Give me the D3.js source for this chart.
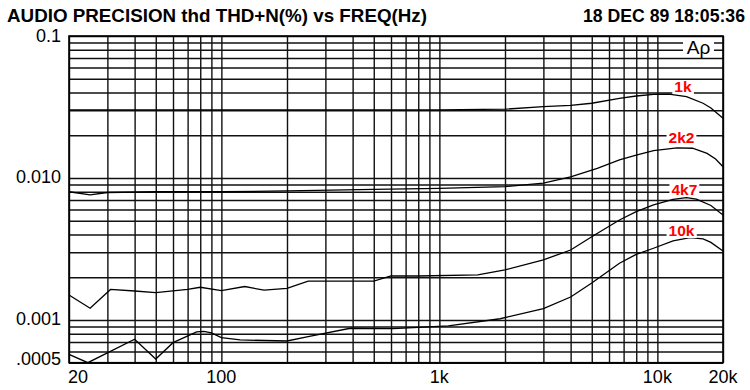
<!DOCTYPE html>
<html>
<head>
<meta charset="utf-8">
<script src="https://cdn.jsdelivr.net/npm/d3@7"></script>
<style>
  body { margin: 0; background: #fff; }
  svg { display: block; font-family: "Liberation Sans", Arial, sans-serif; }
  .grid line { stroke: #111; stroke-width: 1.4; }
  .grid path { display: none; }
  .curve { fill: none; stroke: #000; stroke-width: 1.3; }
</style>
</head>
<body>
<div id="chart"></div>
<script>
// tick labels
const xTickVals = [20, 100, 1000, 10000, 20000];
const xTickLabels = ['20', '100', '1k', '10k', '20k'];
const yTickVals = [0.1, 0.01, 0.001, 0.0005];
const yTickLabels = ['0.1', '0.010', '0.001', '.0005'];

// series (freq in Hz, THD+N in %)
const seriesNames = ['1k', '2k2', '4k7', '10k'];

const freq1k = [20, 100, 500, 1000, 2000, 3000, 4000, 5000, 6700, 8000, 9600, 11300, 13600, 16200, 17600, 20000];
const thd1k = [0.0302, 0.0302, 0.0302, 0.0302, 0.0305, 0.0318, 0.0325, 0.0336, 0.0364, 0.0378, 0.0388, 0.0390, 0.0374, 0.0336, 0.0311, 0.0263];

const freq2k2 = [20, 25, 30, 50, 100, 200, 500, 1000, 2000, 3000, 4000, 5300, 6700, 8000, 9600, 12300, 14500, 16900, 18500, 20000];
const thd2k2 = [0.0080, 0.0076, 0.0079, 0.0080, 0.0080, 0.0081, 0.0083, 0.00845, 0.0087, 0.0092, 0.0102, 0.0117, 0.0134, 0.0145, 0.0156, 0.0163, 0.0162, 0.0149, 0.0136, 0.0120];

const freq4k7 = [20, 25, 31, 40, 50, 70, 80, 100, 128, 157, 200, 250, 500, 600, 800, 1500, 2000, 3000, 4000, 5000, 6700, 8000, 9600, 11800, 13600, 15100, 17600, 20000];
const thd4k7 = [0.0015, 0.00121, 0.00164, 0.0016, 0.00156, 0.00164, 0.0017, 0.00161, 0.00172, 0.00162, 0.00167, 0.00188, 0.00188, 0.00204, 0.00204, 0.00208, 0.00225, 0.00265, 0.00311, 0.00386, 0.00506, 0.0058, 0.00646, 0.00708, 0.00727, 0.00709, 0.0064, 0.00549];

const freq10k = [20, 24.4, 40, 50, 60, 77, 83, 90, 100, 122, 200, 250, 390, 615, 1100, 1900, 3000, 4000, 5000, 6700, 8000, 9600, 11800, 14100, 16200, 17600, 20000];
const thd10k = [0.000573, 0.0005, 0.000731, 0.000531, 0.000692, 0.000823, 0.00083, 0.00081, 0.00075, 0.000723, 0.000711, 0.000763, 0.000874, 0.00087, 0.000908, 0.00102, 0.0012, 0.00145, 0.00182, 0.00251, 0.0029, 0.0032, 0.0036, 0.0038, 0.00372, 0.00352, 0.00306];

// where the series names sit (freq, value at text baseline)
const labelFreq = [13100, 12900, 13300, 12900];
const labelVal = [0.0403, 0.0176, 0.0076, 0.0039];

const W = 750, H = 390;
const plotL = 69, plotR = 723, plotT = 36, plotB = 362.7;

const svg = d3.select('#chart').append('svg')
  .attr('width', W).attr('height', H);

const x = d3.scaleLog().domain([20, 20000]).range([plotL, plotR]);
const y = d3.scaleLog().domain([0.0005, 0.1]).range([plotB, plotT]);

// grid values
const gridX = [];
[10, 100, 1000].forEach(d => { for (let k = 1; k <= 9; k++) if (d * k >= 20) gridX.push(d * k); });
gridX.push(10000, 20000);
const gridY = [];
[0.0001, 0.001, 0.01].forEach(d => { for (let k = 1; k <= 9; k++) if (d * k >= 0.0005) gridY.push(+(d * k).toPrecision(3)); });
gridY.push(0.1);

svg.append('g').attr('class', 'grid')
  .attr('transform', `translate(0,${plotB})`)
  .call(d3.axisBottom(x).tickValues(gridX).tickSize(-(plotB - plotT)).tickFormat(''));
svg.append('g').attr('class', 'grid')
  .attr('transform', `translate(${plotL},0)`)
  .call(d3.axisLeft(y).tickValues(gridY).tickSize(-(plotR - plotL)).tickFormat(''));

svg.append('rect')
  .attr('x', plotL).attr('y', plotT)
  .attr('width', plotR - plotL).attr('height', plotB - plotT)
  .attr('fill', 'none').attr('stroke', '#000').attr('stroke-width', 1.6);

// axis labels
svg.selectAll('.xlab').data(xTickVals).enter().append('text')
  .attr('x', (d, i) => i === 0 ? x(d) - 1 : x(d))
  .attr('y', 383)
  .attr('text-anchor', (d, i) => i === 0 ? 'start' : 'middle')
  .attr('font-size', 18)
  .text((d, i) => xTickLabels[i]);

const yDy = [6, 5, 5, 2];
svg.selectAll('.ylab').data(yTickVals).enter().append('text')
  .attr('x', 61)
  .attr('y', (d, i) => y(d) + yDy[i])
  .attr('text-anchor', 'end')
  .attr('font-size', 18)
  .text((d, i) => yTickLabels[i]);

// titles
svg.append('text').attr('x', 7).attr('y', 21.5)
  .attr('font-size', 17.5).attr('font-weight', 'bold')
  .attr('textLength', 420).attr('lengthAdjust', 'spacingAndGlyphs')
  .text('AUDIO PRECISION thd THD+N(%) vs FREQ(Hz)');
svg.append('text').attr('x', 583).attr('y', 21.5)
  .attr('font-size', 17.5).attr('font-weight', 'bold')
  .attr('textLength', 162).attr('lengthAdjust', 'spacingAndGlyphs')
  .text('18 DEC 89 18:05:36');

// Ap logo
svg.append('rect').attr('x', 683).attr('y', 38).attr('width', 31).attr('height', 18).attr('fill', '#fff');
svg.append('text').attr('x', 698.5).attr('y', 53.5)
  .attr('text-anchor', 'middle').attr('font-size', 19)
  .text('Aρ');

// series label backgrounds and labels
const labels = svg.append('g');
const labelText = labels.selectAll('text').data(seriesNames).enter().append('text')
  .attr('x', (d, i) => x(labelFreq[i]))
  .attr('y', (d, i) => y(labelVal[i]))
  .attr('text-anchor', 'middle')
  .attr('font-size', 15.5).attr('font-weight', 'bold')
  .attr('fill', '#ff0000')
  .text(d => d);
labelText.each(function() {
  const b = this.getBBox();
  labels.insert('rect', 'text')
    .attr('x', b.x - 2).attr('y', b.y + 2)
    .attr('width', b.width + 4).attr('height', b.height - 3)
    .attr('fill', '#fff');
});

// curves
const line = d3.line()
  .x(d => x(d[0]))
  .y(d => y(d[1]));
const series = [[freq1k, thd1k], [freq2k2, thd2k2], [freq4k7, thd4k7], [freq10k, thd10k]];
series.forEach(s => {
  svg.append('path')
    .datum(d3.zip(s[0], s[1]))
    .attr('class', 'curve')
    .attr('d', line);
});
labels.raise();
</script>
</body>
</html>
